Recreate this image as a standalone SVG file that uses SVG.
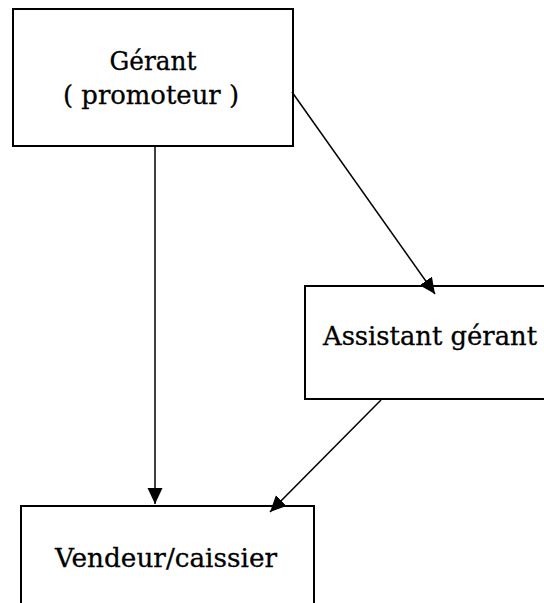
<svg xmlns="http://www.w3.org/2000/svg" width="544" height="603" viewBox="0 0 544 603">
<style>
.box{fill:#fff;stroke:#000;stroke-width:2}
.lbl{font-family:"DejaVu Serif","Liberation Serif",serif;font-size:26px;fill:#000;stroke:#000;stroke-width:0.3;text-anchor:middle}
.con{stroke:#000;stroke-width:1.5;fill:none}
</style>
<defs>
<marker id="ah" markerUnits="userSpaceOnUse" markerWidth="18" markerHeight="18" viewBox="0 0 18 18" refX="16" refY="8" orient="auto">
<path d="M0,0.5 L16,8 L0,15.5 Z" fill="#000"/>
</marker>
</defs>
<rect width="544" height="603" fill="#fff"/>
<g id="gerant">
<rect class="box" x="13" y="9" width="280" height="137"/>
<text class="lbl" x="153" y="70" textLength="87" lengthAdjust="spacingAndGlyphs">Gérant</text>
<text class="lbl" x="151" y="104" textLength="176" lengthAdjust="spacingAndGlyphs">( promoteur )</text>
</g>
<g id="assistant">
<rect class="box" x="305" y="286" width="245" height="113"/>
<text class="lbl" x="430" y="345" textLength="214" lengthAdjust="spacingAndGlyphs">Assistant gérant</text>
</g>
<g id="vendeur">
<rect class="box" x="21" y="506" width="293" height="110"/>
<text class="lbl" x="166" y="567" textLength="222" lengthAdjust="spacingAndGlyphs">Vendeur/caissier</text>
</g>
<g id="connectors">
<line class="con" x1="155" y1="146" x2="155" y2="504" marker-end="url(#ah)"/>
<line class="con" x1="292" y1="92" x2="435" y2="294" marker-end="url(#ah)"/>
<line class="con" x1="381" y1="400" x2="270" y2="512" marker-end="url(#ah)"/>
</g>
</svg>
